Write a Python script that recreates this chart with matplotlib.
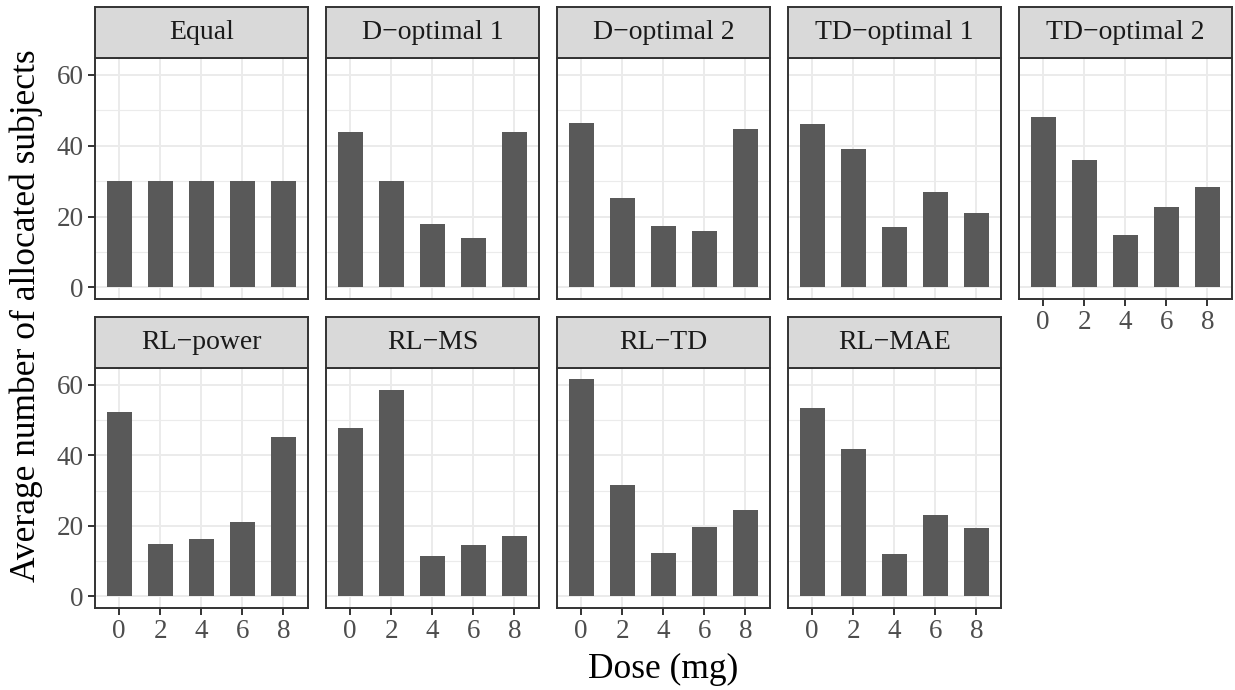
import matplotlib
matplotlib.use("Agg")
from matplotlib import pyplot as plt

plt.rcParams['font.family'] = ['Liberation Serif', 'DejaVu Serif']

doses = [0, 2, 4, 6, 8]
designs = ["Equal", "D\u2212optimal 1", "D\u2212optimal 2", "TD\u2212optimal 1", "TD\u2212optimal 2",
           "RL\u2212power", "RL\u2212MS", "RL\u2212TD", "RL\u2212MAE"]

equal = [30, 30, 30, 30, 30]
d_opt1 = [43.9, 30, 17.9, 13.9, 43.9]
d_opt2 = [46.4, 25.2, 17.3, 15.9, 44.7]
td_opt1 = [46.1, 39.1, 17.0, 26.9, 21.0]
td_opt2 = [48.1, 36.0, 14.8, 22.7, 28.3]
rl_power = [52.4, 14.9, 16.3, 21.1, 45.3]
rl_ms = [47.9, 58.6, 11.5, 14.6, 17.1]
rl_td = [61.8, 31.5, 12.3, 19.7, 24.5]
rl_mae = [53.5, 41.7, 12.0, 23.0, 19.4]
values = [equal, d_opt1, d_opt2, td_opt1, td_opt2, rl_power, rl_ms, rl_td, rl_mae]

W, H = 1235, 690
fig = plt.figure(figsize=(W / 100, H / 100), dpi=100)

border = "#333333"
tick_col = "#4D4D4D"

lefts = [95, 326, 557, 788, 1019]
pw = 213
rows = [(7, 58, 299), (317, 368, 608)]  # strip top, strip bottom / panel top, panel bottom

for i, (name, vals) in enumerate(zip(designs, values)):
    r, c = divmod(i, 5)
    st, sb, pb = rows[r]
    x0 = lefts[c]
    ax = fig.add_axes([x0 / W, 1 - pb / H, pw / W, (pb - sb) / H])
    ax.bar(doses, vals, width=1.22, color="#595959", zorder=3)
    ax.set_xlim(-1.17, 9.2)
    ax.set_ylim(-3.3, 64.8)
    ax.set_xticks(doses)
    ax.set_yticks([0, 20, 40, 60])
    ax.set_yticks([10, 30, 50], minor=True)
    ax.grid(which="major", color="#EBEBEB", lw=1.4, zorder=0)
    ax.grid(which="minor", axis="y", color="#EBEBEB", lw=0.8, zorder=0)
    ax.tick_params(which="minor", length=0)
    ax.tick_params(which="major", color=border, width=1.4, length=5,
                   labelsize=19.5, labelcolor=tick_col, pad=3)
    for s in ax.spines.values():
        s.set_color(border)
        s.set_linewidth(1.4)
    show_x = (r == 1) or (c == 4)
    if not show_x:
        ax.tick_params(axis="x", labelbottom=False, length=0)
    if c != 0:
        ax.tick_params(axis="y", labelleft=False, length=0)

    # facet strip
    sax = fig.add_axes([x0 / W, 1 - sb / H, pw / W, (sb - st) / H])
    sax.set_facecolor("#D9D9D9")
    sax.set_xticks([])
    sax.set_yticks([])
    for s in sax.spines.values():
        s.set_color(border)
        s.set_linewidth(1.4)
    sax.text(0.5, 0.5, name, ha="center", va="center", fontsize=20,
             color="#1A1A1A", transform=sax.transAxes)

fig.text(663 / W, 1 - 669 / H, "Dose (mg)", ha="center", va="center", fontsize=25.5)
fig.text(26 / W, 1 - 316 / H, "Average number of allocated subjects", ha="center",
         va="center", rotation=90, fontsize=25.5)

fig.savefig("out.png", dpi=100)
